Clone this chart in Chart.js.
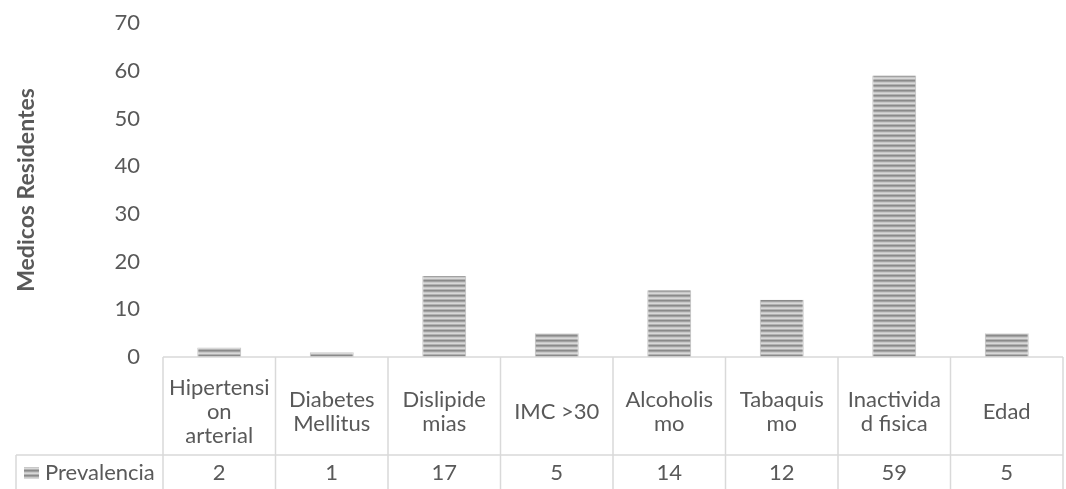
<!DOCTYPE html>
<html>
<head>
<meta charset="utf-8">
<style>
  html, body { margin: 0; padding: 0; background: #ffffff; }
  #wrap { width: 1066px; height: 489px; position: relative; }
</style>
<script src="https://cdn.jsdelivr.net/npm/chart.js@4.4.1/dist/chart.umd.min.js"></script>
</head>
<body>
<div id="wrap"><canvas id="chart"></canvas></div>
<script>
// Risk factors among resident physicians
const categories = [
  ['Hipertensi', 'on', 'arterial'],
  ['Diabetes', 'Mellitus'],
  ['Dislipide', 'mias'],
  'IMC >30',
  ['Alcoholis', 'mo'],
  ['Tabaquis', 'mo'],
  ['Inactivida', 'd fisica'],
  'Edad'
];
const seriesName = 'Prevalencia';
const prevalencia = [2, 1, 17, 5, 14, 12, 59, 5];
const yTicks = [0, 10, 20, 30, 40, 50, 60, 70];
const yTitle = 'Medicos Residentes';

const FONT = 'Lato';
const TEXT = '#595959';
const LINE = '#d9d9d9';

// Horizontal striped fill used for the bars and the legend key
function stripePattern(ctx) {
  const tile = document.createElement('canvas');
  tile.width = 4; tile.height = 5;
  const t = tile.getContext('2d');
  const shades = ['#8a8a8a', '#a2a2a2', '#c8c8c8', '#d8d8d8', '#b2b2b2'];
  shades.forEach((c, i) => { t.fillStyle = c; t.fillRect(0, i, 4, 1); });
  return ctx.createPattern(tile, 'repeat');
}

const canvas = document.getElementById('chart');
const ctx = canvas.getContext('2d');
const stripes = stripePattern(ctx);

// Data table under the plot: grid lines, legend key and value row
const dataTable = {
  id: 'dataTable',
  afterDraw(chart) {
    const x = chart.scales.x;
    const area = chart.chartArea;
    const c = chart.ctx;
    const n = categories.length;
    const step = (area.right - area.left) / n;
    const top = area.bottom;
    const mid = top + 98;
    const bottom = chart.height;
    c.save();
    c.strokeStyle = LINE;
    c.lineWidth = 1.5;
    c.beginPath();
    c.moveTo(area.left, top); c.lineTo(area.right, top);
    c.moveTo(16, mid); c.lineTo(area.right, mid);
    for (let i = 0; i <= n; i++) {
      const lx = area.left + i * step;
      c.moveTo(lx, top); c.lineTo(lx, bottom);
    }
    c.moveTo(16, mid); c.lineTo(16, bottom);
    c.stroke();

    const rowY = (mid + bottom) / 2 + 1;
    c.fillStyle = TEXT;
    c.font = '22px ' + FONT;
    c.textAlign = 'center';
    c.textBaseline = 'middle';
    prevalencia.forEach((v, i) => {
      c.fillText(String(v), x.getPixelForTick(i), rowY);
    });
    c.fillStyle = stripes;
    c.fillRect(24, rowY - 6, 15, 12);
    c.fillStyle = TEXT;
    c.textAlign = 'left';
    c.fillText(seriesName, 45, rowY);
    c.restore();
  }
};

new Chart(ctx, {
  type: 'bar',
  data: {
    labels: categories,
    datasets: [{
      label: seriesName,
      data: prevalencia,
      backgroundColor: stripes,
      borderColor: 'rgba(110,110,110,0.45)',
      borderWidth: { left: 1, right: 1, top: 0, bottom: 0 },
      borderSkipped: false,
      categoryPercentage: 1,
      barPercentage: 0.39
    }]
  },
  options: {
    responsive: true,
    maintainAspectRatio: false,
    animation: false,
    layout: { padding: { top: 23, right: 3, bottom: 0, left: 0 } },
    plugins: {
      legend: { display: false },
      tooltip: { enabled: false }
    },
    scales: {
      x: {
        offset: true,
        grid: { display: false },
        border: { display: false },
        ticks: {
          color: TEXT,
          font: { family: FONT, size: 22, lineHeight: 1.1 },
          padding: 23,
          crossAlign: 'center',
          maxRotation: 0,
          autoSkip: false
        },
        afterFit(scale) {
          scale.height = 132;
          scale.paddingLeft = 0; scale.paddingRight = 0;
          scale.paddingTop = 0; scale.paddingBottom = 0;
        }
      },
      y: {
        min: 0,
        max: 70,
        grid: { display: false },
        border: { display: false },
        afterBuildTicks(scale) { scale.ticks = yTicks.map(v => ({ value: v })); },
        ticks: {
          color: TEXT,
          font: { family: FONT, size: 22 },
          padding: 15
        },
        title: {
          display: true,
          text: yTitle,
          color: TEXT,
          font: { family: FONT, size: 23, weight: 'bold' },
          padding: { top: 13, bottom: 0 }
        },
        afterFit(scale) {
          scale.width = 163;
          scale.paddingTop = 0; scale.paddingBottom = 0;
        }
      }
    }
  },
  plugins: [dataTable]
});
</script>
</body>
</html>
